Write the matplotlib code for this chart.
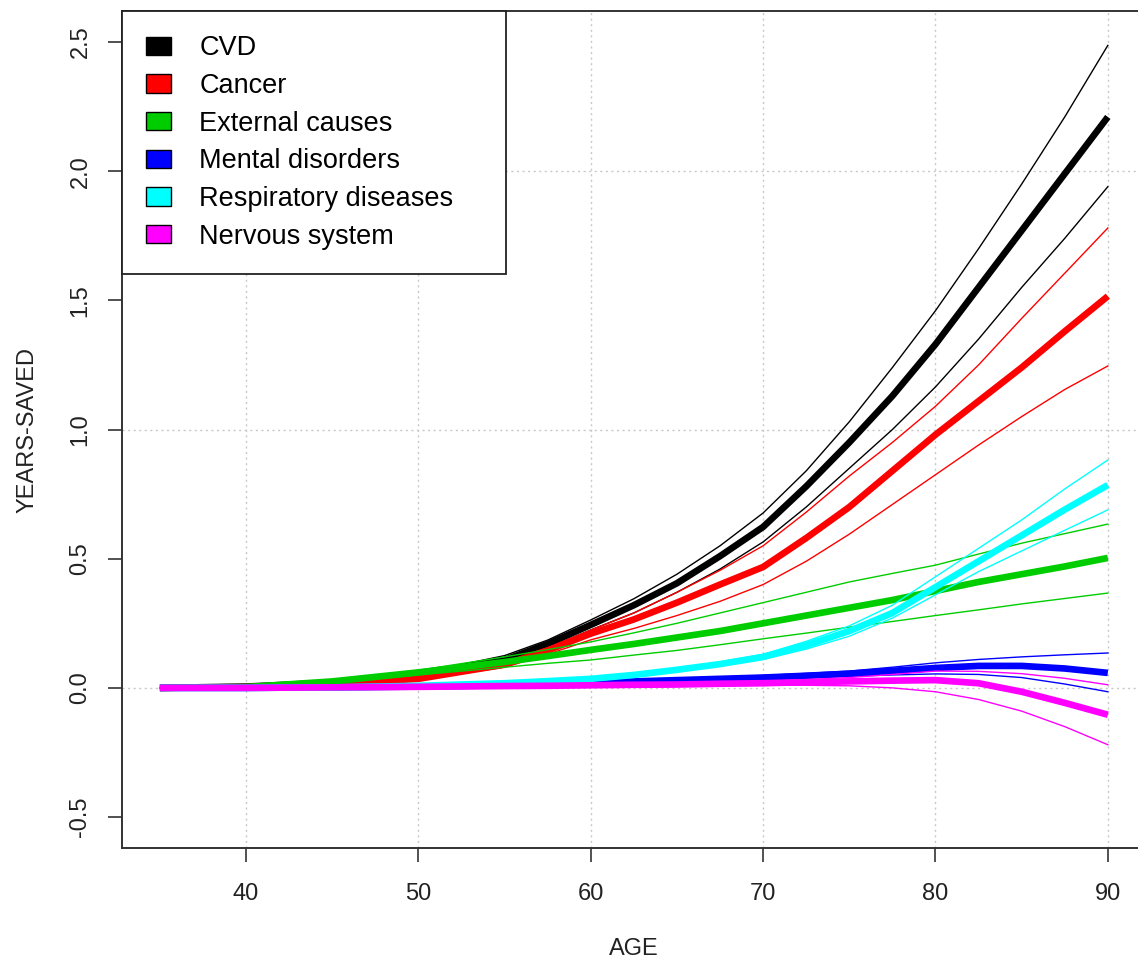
import matplotlib
matplotlib.use("Agg")
import matplotlib.pyplot as plt
from matplotlib.patches import Patch

plt.rcParams["font.family"] = ["Liberation Sans", "DejaVu Sans"]

# ages (x) and estimated values (central, upper, lower) per cause
ages = [35, 40, 45, 50, 55, 57.5, 60, 62.5, 65, 67.5, 70, 72.5, 75, 77.5,
        80, 82.5, 85, 87.5, 90]

cvd = [0, 0.005, 0.02, 0.045, 0.108, 0.17, 0.244, 0.32, 0.405, 0.51, 0.623,
       0.78, 0.95, 1.13, 1.33, 1.55, 1.77, 1.99, 2.21]
cvd_hi = [0, 0.006, 0.025, 0.055, 0.125, 0.185, 0.263, 0.345, 0.44, 0.55,
          0.677, 0.84, 1.03, 1.24, 1.46, 1.70, 1.95, 2.21, 2.487]
cvd_lo = [0, 0.004, 0.018, 0.04, 0.10, 0.155, 0.224, 0.29, 0.37, 0.46, 0.565,
          0.70, 0.85, 1.00, 1.165, 1.35, 1.55, 1.74, 1.94]

cancer = [0, 0.003, 0.015, 0.035, 0.09, 0.145, 0.21, 0.265, 0.33, 0.40, 0.468,
          0.58, 0.70, 0.84, 0.98, 1.11, 1.24, 1.38, 1.516]
cancer_hi = [0, 0.004, 0.018, 0.04, 0.10, 0.155, 0.224, 0.29, 0.37, 0.455,
             0.55, 0.68, 0.82, 0.95, 1.09, 1.25, 1.43, 1.605, 1.78]
cancer_lo = [0, 0.002, 0.012, 0.03, 0.08, 0.13, 0.186, 0.23, 0.28, 0.335, 0.40,
             0.49, 0.595, 0.71, 0.825, 0.94, 1.05, 1.155, 1.246]

external = [0, 0.003, 0.025, 0.06, 0.10, 0.123, 0.147, 0.17, 0.195, 0.22, 0.25,
            0.28, 0.31, 0.34, 0.375, 0.41, 0.44, 0.47, 0.503]
external_hi = [0, 0.004, 0.03, 0.068, 0.12, 0.148, 0.178, 0.213, 0.25, 0.29,
               0.33, 0.37, 0.41, 0.443, 0.475, 0.518, 0.56, 0.597, 0.634]
external_lo = [0, 0.002, 0.02, 0.05, 0.08, 0.095, 0.108, 0.127, 0.145, 0.167,
               0.19, 0.212, 0.235, 0.257, 0.28, 0.302, 0.325, 0.346, 0.367]

mental = [0, 0, 0.002, 0.005, 0.01, 0.015, 0.02, 0.025, 0.03, 0.035, 0.04,
          0.047, 0.055, 0.066, 0.077, 0.085, 0.085, 0.075, 0.058]
mental_hi = [0, 0, 0.002, 0.006, 0.012, 0.018, 0.024, 0.03, 0.035, 0.041,
             0.048, 0.056, 0.065, 0.08, 0.097, 0.11, 0.12, 0.128, 0.135]
mental_lo = [0, 0, 0.001, 0.004, 0.008, 0.012, 0.016, 0.02, 0.025, 0.029,
             0.033, 0.039, 0.045, 0.05, 0.054, 0.052, 0.04, 0.015, -0.015]

resp = [0, 0, 0.002, 0.008, 0.018, 0.026, 0.035, 0.05, 0.07, 0.092, 0.12,
        0.165, 0.22, 0.29, 0.39, 0.49, 0.59, 0.69, 0.785]
resp_hi = [0, 0, 0.002, 0.009, 0.02, 0.03, 0.04, 0.055, 0.075, 0.10, 0.13,
           0.18, 0.24, 0.32, 0.43, 0.54, 0.65, 0.77, 0.882]
resp_lo = [0, 0, 0.002, 0.007, 0.016, 0.023, 0.03, 0.045, 0.065, 0.085, 0.11,
           0.15, 0.20, 0.27, 0.36, 0.45, 0.53, 0.61, 0.689]

nervous = [0, 0, 0.002, 0.004, 0.007, 0.008, 0.01, 0.012, 0.013, 0.016, 0.018,
           0.022, 0.025, 0.028, 0.03, 0.018, -0.015, -0.058, -0.104]
nervous_hi = [0, 0, 0.003, 0.006, 0.01, 0.012, 0.015, 0.017, 0.02, 0.022,
              0.025, 0.032, 0.04, 0.052, 0.065, 0.064, 0.055, 0.037, 0.012]
nervous_lo = [0, 0, 0.001, 0.002, 0.004, 0.004, 0.005, 0.005, 0.006, 0.008,
              0.01, 0.01, 0.008, 0.0, -0.015, -0.045, -0.09, -0.15, -0.22]

labels = ["CVD", "Cancer", "External causes", "Mental disorders",
          "Respiratory diseases", "Nervous system"]
colors = ["#000000", "#ff0000", "#00cd00", "#0000ff", "#00ffff", "#ff00ff"]
series = [
    (cvd, cvd_hi, cvd_lo),
    (cancer, cancer_hi, cancer_lo),
    (external, external_hi, external_lo),
    (mental, mental_hi, mental_lo),
    (resp, resp_hi, resp_lo),
    (nervous, nervous_hi, nervous_lo),
]

x_ticks = [40, 50, 60, 70, 80, 90]
y_ticks = [-0.5, 0.0, 0.5, 1.0, 1.5, 2.0, 2.5]
y_grid = [0, 1, 2]

fig = plt.figure(figsize=(11.38, 9.59), dpi=100)
ax = fig.add_axes([0.1072, 0.1157, 0.8996, 0.8728])

# dotted grid, R style
for g in x_ticks:
    ax.axvline(g, color="#c8c8c8", linestyle=(0, (1.5, 2.5)), linewidth=1.0, zorder=0)
for g in y_grid:
    ax.axhline(g, color="#c8c8c8", linestyle=(0, (1.5, 2.5)), linewidth=1.0, zorder=0)

for (mid, hi, lo), c in zip(series, colors):
    ax.plot(ages, hi, color=c, linewidth=1.0)
    ax.plot(ages, lo, color=c, linewidth=1.0)
    ax.plot(ages, mid, color=c, linewidth=4.8, solid_capstyle="butt")

ax.set_xlim(32.8, 92.2)
ax.set_ylim(-0.62, 2.62)
ax.set_xticks(x_ticks)
ax.set_yticks(y_ticks)
ax.set_xticklabels([str(t) for t in x_ticks])
ax.set_yticklabels([f"{t:.1f}" for t in y_ticks], rotation=90, va="center")
ax.tick_params(axis="both", direction="out", length=10, width=1.2,
               labelsize=17, color="#333333", labelcolor="#222222")
ax.tick_params(axis="x", pad=15)
ax.tick_params(axis="y", pad=12)
for s in ax.spines.values():
    s.set_linewidth(1.4)
    s.set_color("#333333")

ax.set_xlabel("AGE", fontsize=17, color="#222222", labelpad=24)
ax.set_ylabel("YEARS-SAVED", fontsize=17, color="#222222", labelpad=22)

handles = [Patch(facecolor=c, edgecolor="black", linewidth=1.0) for c in colors]
leg = ax.legend(handles, labels, loc="upper left", bbox_to_anchor=(0, 0, 0.375, 1),
                mode="expand", borderaxespad=0, fancybox=False, fontsize=19.5,
                handlelength=0.9, handleheight=0.67, handletextpad=1.05,
                labelspacing=0.43, borderpad=0.9, framealpha=1)
leg.get_frame().set_edgecolor("#222222")
leg.get_frame().set_linewidth(1.3)

fig.savefig("out.png", dpi=100)
